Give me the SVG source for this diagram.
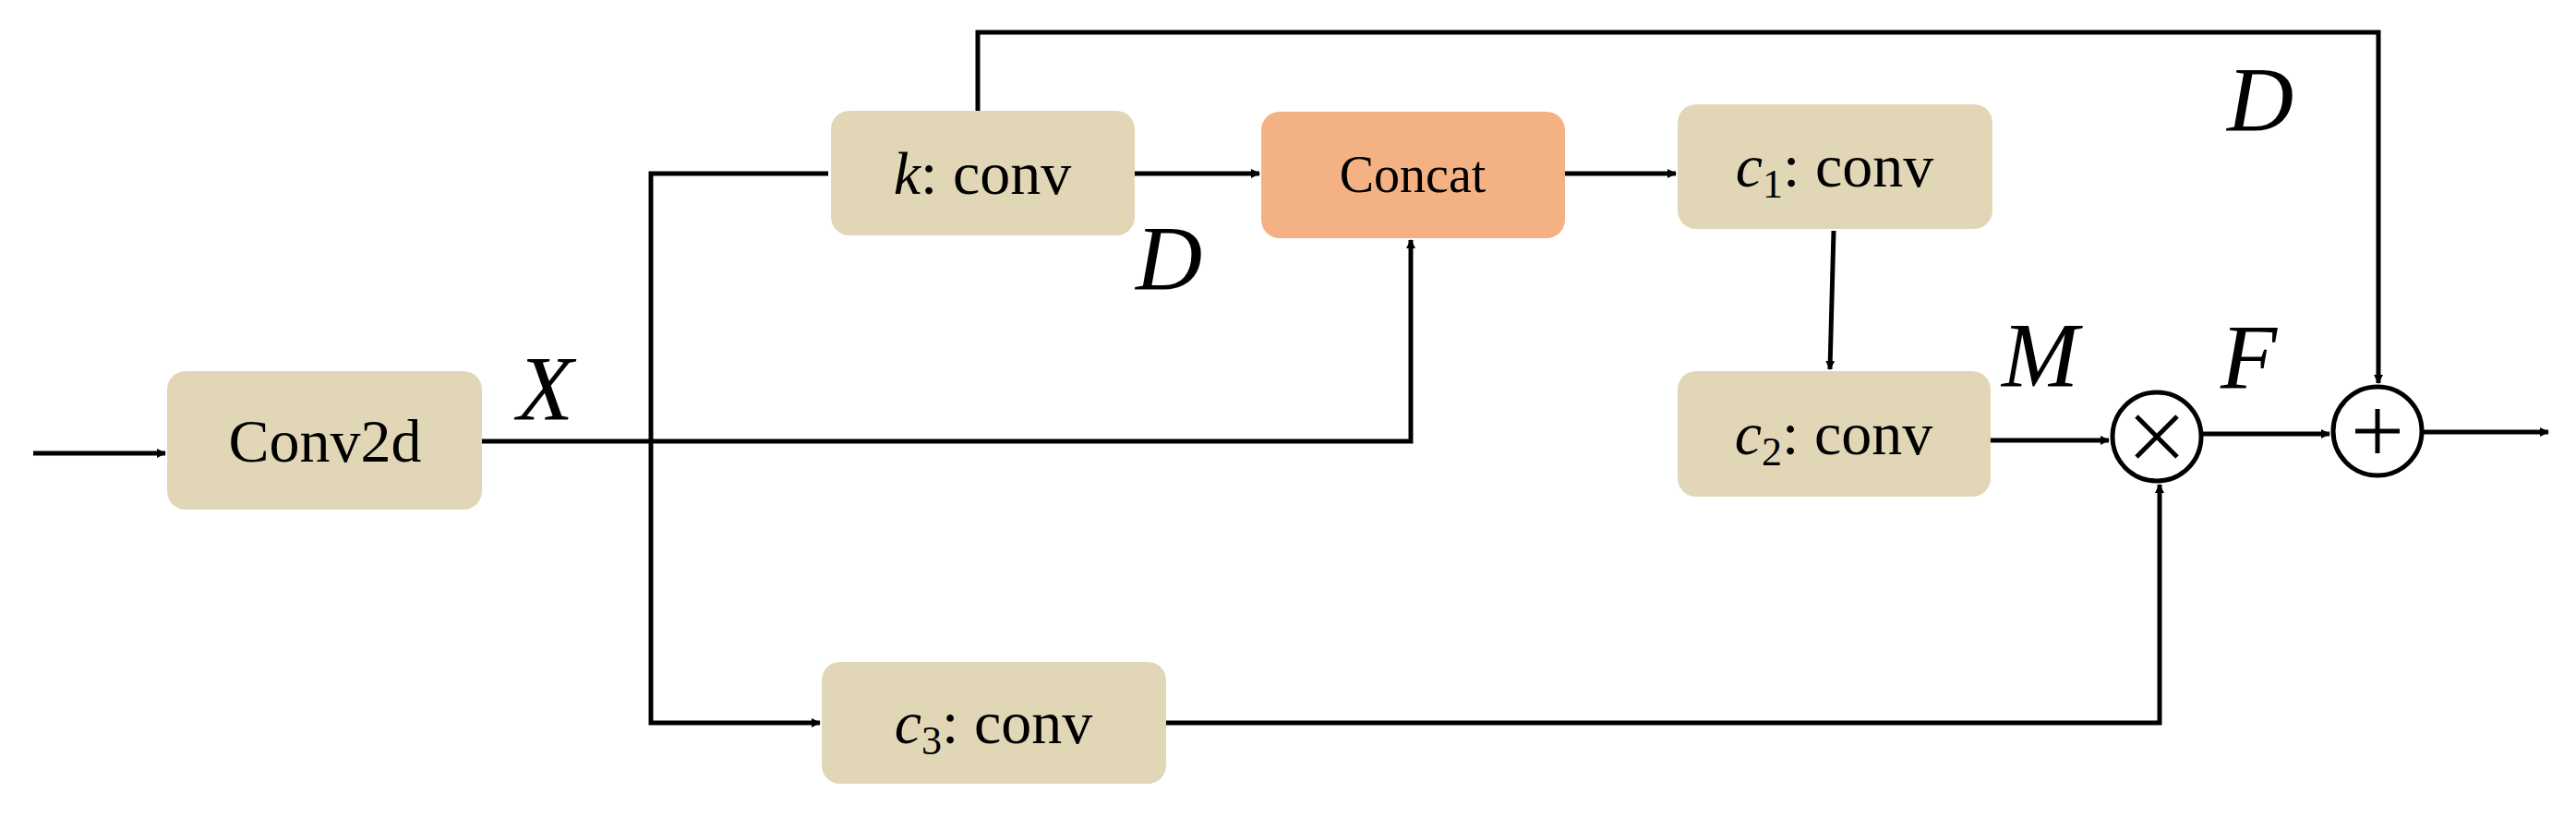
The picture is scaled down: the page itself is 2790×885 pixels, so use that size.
<svg xmlns="http://www.w3.org/2000/svg" width="2790" height="885" viewBox="0 0 2790 885">
<defs>
<style>
.box{fill:#E1D7B7}
.cc{fill:#F4B183}
.t{font-family:"Liberation Serif",serif;font-size:66px;fill:#000;text-anchor:middle}
.i{font-style:italic}
.lb{font-family:"Liberation Serif",serif;font-size:100px;font-style:italic;fill:#000}
.ln{fill:none;stroke:#000;stroke-width:5}
</style>
<marker id="a" markerWidth="10" markerHeight="10" refX="9" refY="5" orient="auto" markerUnits="userSpaceOnUse" viewBox="0 0 10 10"><path d="M0,0 L10,5 L0,10 z" fill="#000"/></marker>
</defs>
<rect width="2790" height="885" fill="#fff"/>
<g id="connectors">
<path class="ln" d="M36,491 H179" marker-end="url(#a)"/>
<path class="ln" d="M522,478 H1528 V260" marker-end="url(#a)"/>
<path class="ln" d="M897,188 H705 V783 H888" marker-end="url(#a)"/>
<path class="ln" d="M1229,188 H1364" marker-end="url(#a)"/>
<path class="ln" d="M1059,120 V35 H2576 V415" marker-end="url(#a)"/>
<path class="ln" d="M1695,188 H1815" marker-end="url(#a)"/>
<path class="ln" d="M1986,250 L1982,400" marker-end="url(#a)"/>
<path class="ln" d="M2156,477 H2284" marker-end="url(#a)"/>
<path class="ln" d="M1263,783 H2339 V525" marker-end="url(#a)"/>
<path class="ln" d="M2386,470 H2523" marker-end="url(#a)"/>
<path class="ln" d="M2625,468 H2760" marker-end="url(#a)"/>
</g>
<style>#connectors marker path{}</style>
<g id="conv2d"><rect class="box" x="181" y="402" width="341" height="150" rx="20"/><text class="t" x="352" y="500">Conv2d</text></g>
<g id="kconv"><rect class="box" x="900" y="120" width="329" height="135" rx="20"/><text class="t" x="1064" y="210"><tspan class="i">k</tspan>: conv</text></g>
<g id="concat"><rect class="cc" x="1366" y="121" width="329" height="137" rx="20"/><text class="t" x="1530" y="208" style="font-size:56px">Concat</text></g>
<g id="c1conv"><rect class="box" x="1817" y="113" width="341" height="135" rx="20"/><text class="t" x="1987" y="202"><tspan class="i">c</tspan><tspan style="font-size:44px" dy="12">1</tspan><tspan dy="-12">: conv</tspan></text></g>
<g id="c2conv"><rect class="box" x="1817" y="402" width="339" height="136" rx="20"/><text class="t" x="1986" y="492"><tspan class="i">c</tspan><tspan style="font-size:44px" dy="12">2</tspan><tspan dy="-12">: conv</tspan></text></g>
<g id="c3conv"><rect class="box" x="890" y="717" width="373" height="132" rx="20"/><text class="t" x="1076" y="805"><tspan class="i">c</tspan><tspan style="font-size:44px" dy="12">3</tspan><tspan dy="-12">: conv</tspan></text></g>
<g id="mul"><circle cx="2336" cy="473" r="48" fill="#fff" stroke="#000" stroke-width="5"/><path class="ln" d="M2314,451 L2358,495 M2358,451 L2314,495" stroke-width="4"/></g>
<g id="add"><circle cx="2575" cy="467" r="48" fill="#fff" stroke="#000" stroke-width="5"/><path class="ln" d="M2575,443 V491 M2551,467 H2599"/></g>
<g id="labels">
<text class="lb" x="560" y="454">X</text>
<text class="lb" x="1230" y="313">D</text>
<text class="lb" x="2412" y="141">D</text>
<text class="lb" x="2168" y="418">M</text>
<text class="lb" x="2405" y="420">F</text>
</g>
</svg>
